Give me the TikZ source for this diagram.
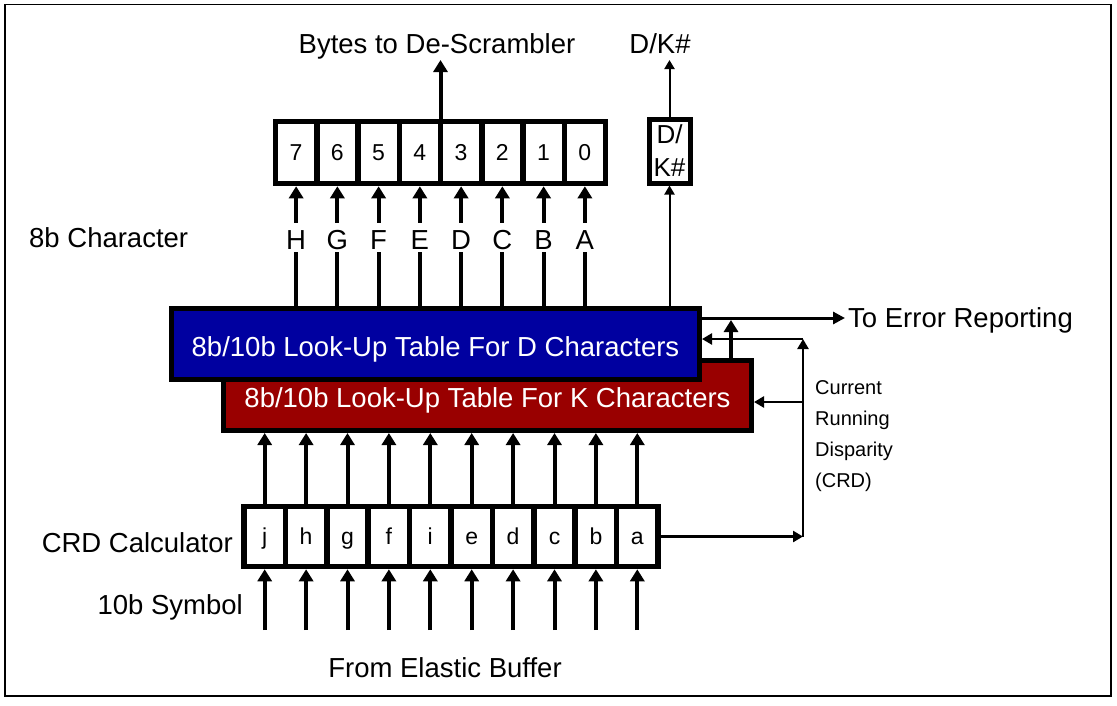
\documentclass[tikz,border=0pt]{standalone}
\usepackage{fontspec}
\setmainfont{Liberation Sans}
\usetikzlibrary{arrows.meta,calc}
\definecolor{lutblue}{RGB}{0,0,160}
\definecolor{lutred}{RGB}{153,0,0}
\begin{document}
\begin{tikzpicture}[x=1pt,y=-1pt,
  cell/.style={draw,line width=5.5pt,inner sep=0pt,text height=16.5pt,text depth=0pt,font=\fontsize{23}{27}\selectfont},
  lut/.style={draw,line width=5pt,minimum width=528pt,minimum height=70pt,text=white,inner sep=0pt,
              text height=24pt,text depth=0pt,font=\fontsize{27.5}{33}\selectfont},
  thickarr/.style={line width=4pt,-{Triangle[length=12pt,width=14pt]}},
  errarr/.style={line width=3pt,-{Triangle[length=12pt,width=12pt]}},
  crdarr/.style={line width=2.5pt,-{Triangle[length=10pt,width=11pt]}},
  thinarr/.style={line width=2pt,-{Triangle[length=9pt,width=10pt]}},
  bitlab/.style={fill=white,inner xsep=1pt,inner ysep=0pt,text height=26pt,text depth=3pt,anchor=base,font=\fontsize{27.5}{33}\selectfont},
  txt/.style={inner sep=0pt,font=\fontsize{27.5}{33}\selectfont}]
\useasboundingbox (0,0) rectangle (1117,705);
\fill[white] (0,0) rectangle (1117,705);
\draw[line width=1.5pt] (5,4.5) rectangle (1111,696);

% top register (8 bits)
\foreach \l [count=\i from 0] in {7,6,5,4,3,2,1,0}
  \node[cell,minimum width=41.25pt,minimum height=62pt] (t\l) at ({275.5+41.25*(\i+0.5)},152.5) {\l};

% D/K# box
\node[draw,line width=5pt,minimum width=41pt,minimum height=64pt,inner sep=0pt,align=center,
      font=\fontsize{26}{33}\selectfont] (dk) at (669.5,151) {D/\\K\#};

% bottom register (10 bits)
\foreach \l [count=\i] in {j,h,g,f,i,e,d,c,b,a}
  \node[cell,minimum width=41.4pt,minimum height=60pt] (b\i) at ({244+41.4*(\i-0.5)},536.5) {\l};

% look-up tables
\node[lut,fill=lutred] (red) at (487.5,395.5) {8b/10b Look-Up Table For K Characters};
\node[lut,fill=lutblue,minimum height=71pt] (blue) at (435.5,344) {8b/10b Look-Up Table For D Characters};

% arrows from blue LUT to top register with bit labels
\foreach \l/\L in {7/H,6/G,5/F,4/E,3/D,2/C,1/B,0/A}{
  \draw[thickarr] (t\l.south |- blue.north) -- (t\l.south);
  \node[bitlab] (lab\L) at ($(t\l.south)+(0,63)$) {\L};
}

% bytes output
\coordinate (byteout) at (440.5,60);
\draw[thickarr] (byteout |- t4.north) -- (byteout);
\node[txt] (bytestxt) at (437,46) {Bytes to De-Scrambler};

% D/K# path
\draw[thinarr] (dk.south |- blue.north) -- (dk.south);
\coordinate (dkout) at (669.5,60);
\draw[thinarr] (dk.north) -- (dkout);
\node[txt] (dktxt) at (660,44) {D/K\#};

% error reporting
\coordinate (err) at (845,318);
\draw[errarr] (err -| blue.east) -- (err);
\node[txt,anchor=west] (errtxt) at (848,320) {To Error Reporting};
\coordinate (erru) at (731,320);
\draw[thickarr] (erru |- red.north) -- (erru);

% bottom register to red LUT, inputs
\coordinate (inrow) at (0,630);
\foreach \i in {1,...,10}{
  \draw[thickarr] (b\i.north) -- (b\i.north |- red.south);
  \coordinate (in\i) at (b\i.south |- inrow);
  \draw[thickarr] (in\i) -- (b\i.south);
}

% CRD feedback
\coordinate (crdc) at (803,536.5);
\coordinate (crdtop) at (803,339);
\coordinate (crdmid) at (803,402);
\draw[crdarr] (b10.east) -- (crdc);
\draw[crdarr] (crdc) -- (crdtop);
\draw[crdarr] (crdtop) -- (crdtop -| blue.east);
\draw[crdarr] (crdmid) -- (crdmid -| red.east);
\node[inner sep=0pt,anchor=west,align=left,font=\fontsize{20}{31}\selectfont] (crdtxt) at (815,436.5)
  {Current\\Running\\Disparity\\(CRD)};

% side labels
\node[txt,anchor=west] (charlab) at (29,238) {8b Character};
\node[txt,anchor=east] (crdlab) at (233,543) {CRD Calculator};
\node[txt,anchor=east] (symlab) at (243,607) {10b Symbol};
\node[txt] (fromlab) at (445,668) {From Elastic Buffer};
\end{tikzpicture}
\end{document}
